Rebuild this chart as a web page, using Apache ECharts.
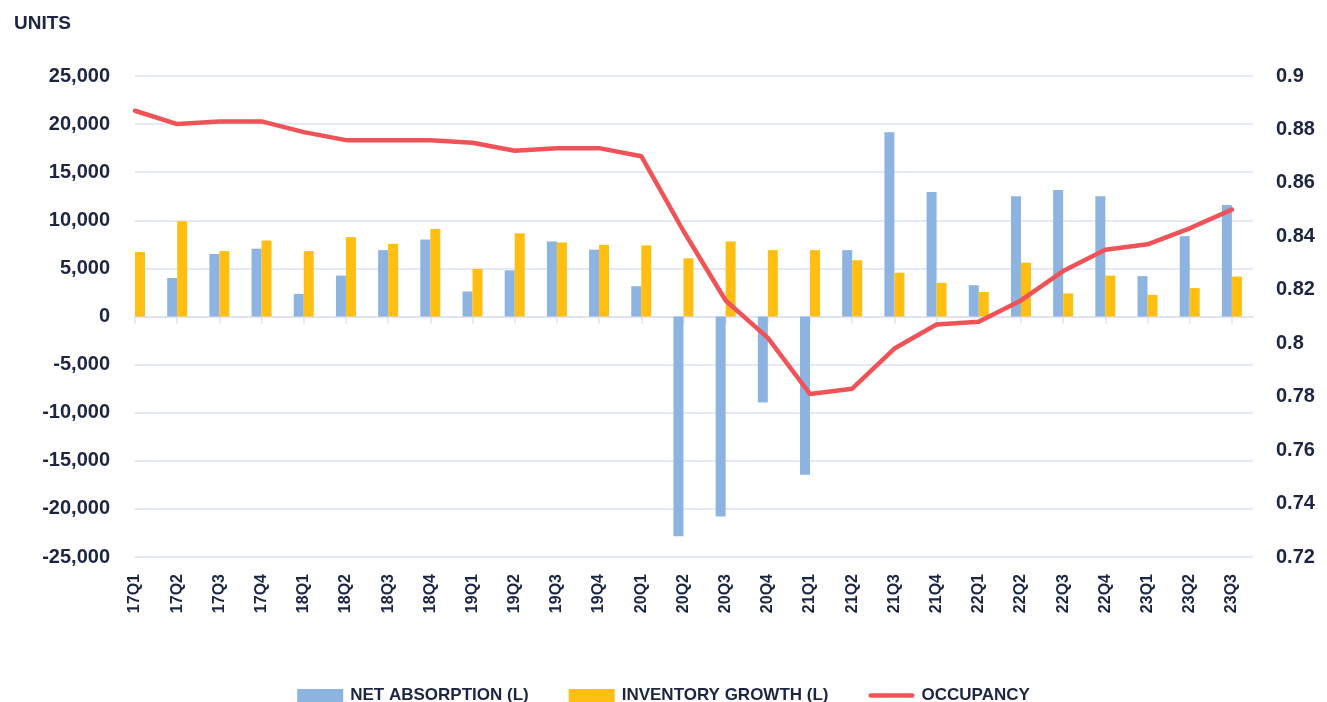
<!DOCTYPE html>
<html>
<head>
<meta charset="utf-8">
<script src="https://cdn.jsdelivr.net/npm/echarts@6/dist/echarts.min.js"></script>
<style>
  html, body { margin: 0; padding: 0; background: #fff; }
  #chart { width: 1327px; height: 702px; }
</style>
</head>
<body>
<div id="chart"></div>
<script>
// quarters
var quarters = ['17Q1','17Q2','17Q3','17Q4','18Q1','18Q2','18Q3','18Q4','19Q1','19Q2','19Q3','19Q4',
  '20Q1','20Q2','20Q3','20Q4','21Q1','21Q2','21Q3','21Q4','22Q1','22Q2','22Q3','22Q4','23Q1','23Q2','23Q3'];

// units (left axis)
var netAbsorption = [null, 4000, 6500, 7050, 2350, 4250, 6900, 8000, 2600, 4800, 7800, 6950,
  3150, -22850, -20800, -8950, -16450, 6900, 19150, 12950, 3250, 12500, 13150, 12500, 4200, 8350, 11600];
var inventoryGrowth = [6700, 9900, 6800, 7900, 6800, 8250, 7550, 9100, 4950, 8650, 7700, 7450,
  7400, 6050, 7800, 6900, 6900, 5850, 4550, 3500, 2550, 5600, 2400, 4250, 2250, 2950, 4150];

// occupancy (right axis)
var occupancy = [0.887, 0.882, 0.883, 0.883, 0.879, 0.876, 0.876, 0.876, 0.875, 0.872, 0.873, 0.873,
  0.870, 0.842, 0.816, 0.802, 0.781, 0.783, 0.798, 0.807, 0.808, 0.816, 0.827, 0.835, 0.837, 0.843, 0.850];

var navy = '#1c2541';
var grid = '#dde1f3';
var font = '"Liberation Sans", Arial, sans-serif';

var idx = quarters.map(function (q, i) { return i; });
function pairs(arr) { return arr.map(function (v, i) { return [i, v]; }); }

var myChart = echarts.init(document.getElementById('chart'));
myChart.setOption({
  animation: false,
  title: {
    text: 'UNITS', left: 9, top: 9,
    textStyle: { color: navy, fontFamily: font, fontWeight: 'bold', fontSize: 19 }
  },
  legend: {
    left: 'center', top: 682,
    itemWidth: 46, itemHeight: 13, itemGap: 40,
    textStyle: { color: navy, fontFamily: font, fontWeight: 'bold', fontSize: 17, padding: [0, 0, 0, 2] },
    data: [
      { name: 'NET ABSORPTION (L)', icon: 'rect' },
      { name: 'INVENTORY GROWTH (L)', icon: 'rect' },
      { name: 'OCCUPANCY', icon: 'path://M2,0 L48,0 A2.5,2.5 0 0 1 48,5 L2,5 A2.5,2.5 0 0 1 2,0 Z' }
    ]
  },
  grid: { left: 135, right: 74, top: 76, bottom: 145 },
  xAxis: [
    {
      type: 'value', min: 0, max: 26.5, interval: 1,
      axisLine: { onZero: true, onZeroAxisIndex: 0, lineStyle: { color: grid, width: 1.5 } },
      axisTick: { show: true, length: 7, customValues: idx, lineStyle: { color: grid, width: 1.5 } },
      axisLabel: { show: false },
      splitLine: { show: false }
    },
    {
      type: 'value', min: 0, max: 26.5, interval: 1, position: 'bottom',
      axisLine: { show: false, onZero: false },
      axisTick: { show: false },
      splitLine: { show: false },
      axisLabel: {
        rotate: 90, margin: 17, customValues: idx,
        color: navy, fontFamily: font, fontWeight: 'bold', fontSize: 16,
        formatter: function (v) { return quarters[v] || ''; }
      }
    }
  ],
  yAxis: [
    {
      type: 'value', min: -25000, max: 25000, interval: 5000,
      axisLine: { show: false }, axisTick: { show: false },
      axisLabel: { margin: 25, color: navy, fontFamily: font, fontWeight: 'bold', fontSize: 20 },
      splitLine: { lineStyle: { color: grid, width: 1.5 } }
    },
    {
      type: 'value', min: 0.72, max: 0.9, interval: 0.02,
      axisLine: { show: false }, axisTick: { show: false },
      axisLabel: { margin: 23, color: navy, fontFamily: font, fontWeight: 'bold', fontSize: 20 },
      splitLine: { show: false }
    }
  ],
  series: [
    {
      name: 'NET ABSORPTION (L)', type: 'bar', xAxisIndex: 0, yAxisIndex: 0,
      barWidth: 10, barGap: '0%',
      itemStyle: { color: '#8db3e0' },
      data: pairs(netAbsorption)
    },
    {
      name: 'INVENTORY GROWTH (L)', type: 'bar', xAxisIndex: 0, yAxisIndex: 0,
      barWidth: 10, barGap: '0%',
      itemStyle: { color: '#ffbf12' },
      data: pairs(inventoryGrowth)
    },
    {
      name: 'OCCUPANCY', type: 'line', xAxisIndex: 0, yAxisIndex: 1,
      symbol: 'none', showSymbol: false,
      lineStyle: { color: '#ef5357', width: 4.5, cap: 'round', join: 'round' },
      itemStyle: { color: '#ef5357' },
      data: pairs(occupancy)
    }
  ]
});
</script>
</body>
</html>
